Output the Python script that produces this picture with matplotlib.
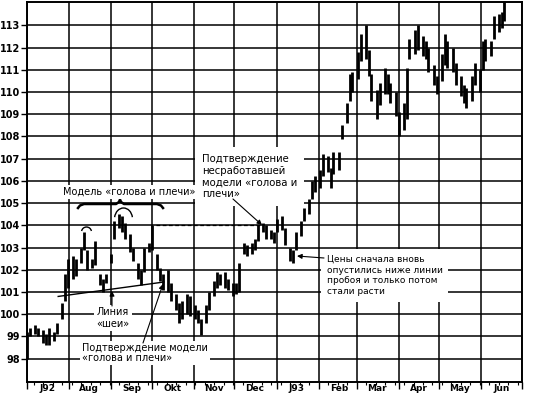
import pandas as pd
import matplotlib
matplotlib.use('Agg')
import matplotlib.pyplot as plt
import matplotlib.dates as mdates
from matplotlib.patches import Arc
from matplotlib.transforms import blended_transform_factory

# bars: every second trading day, July 1992 - June 1993
bar_high = [
    99.2, 99.4, 99.5, 99.4, 99.3, 99.1, 99.4, 99.2, 99.6, 100.5, 101.8, 102.5,        # Jul
    102.6, 102.5, 103.0, 103.7, 102.9, 102.5, 103.3, 101.8, 101.6, 101.8,             # Aug
    102.7, 104.2, 104.5, 104.4, 104.1, 103.6, 103.0, 102.3, 102.0, 103.0, 103.2,      # Sep
    104.0, 102.7, 102.1, 101.8, 102.0, 101.4, 100.9, 100.5, 100.6, 100.9, 100.8,      # Oct
    100.4, 100.2, 99.8, 100.4, 101.0, 101.5, 101.9, 101.8, 101.9, 101.6, 101.4,       # Nov
    101.4, 102.3, 103.2, 103.1, 103.2, 103.4, 104.0, 104.1, 104.0, 103.8, 103.7,      # Dec
    104.3, 104.4, 103.9, 103.0, 102.9, 103.7, 104.2, 104.8, 105.2, 106.0, 106.2,      # Jan
    106.5, 107.2, 107.1, 106.6, 107.3, 107.3, 108.5, 109.5, 110.8, 110.9,             # Feb
    111.8, 112.6, 113.0, 111.9, 110.8, 110.1, 110.4, 111.1, 110.8, 110.4, 110.0,      # Mar
    109.1, 109.5, 111.1, 112.4, 112.8, 113.0, 112.5, 112.3, 112.0, 111.2, 110.7,      # Apr
    111.7, 112.6, 112.3, 112.0, 111.3, 110.7, 110.3, 110.2, 110.7, 111.3, 111.0,      # May
    112.3, 112.4, 112.3, 113.4, 113.5, 113.6, 114.3,                                  # Jun
]
bar_low = [
    98.0, 99.0, 99.1, 99.0, 98.7, 98.6, 98.6, 98.8, 99.1, 99.8, 100.6, 101.2,
    101.6, 101.7, 102.3, 102.9, 102.0, 102.1, 102.2, 101.3, 101.0, 101.4,
    102.3, 103.4, 103.9, 103.7, 103.4, 102.8, 102.4, 101.6, 101.3, 101.9, 102.8,
    102.9, 102.0, 101.5, 101.1, 101.0, 100.6, 100.2, 99.6, 99.8, 100.0, 99.9,
    99.8, 99.6, 99.05, 99.6, 100.2, 100.8, 101.2, 101.3, 101.2, 101.1, 100.8,
    100.9, 101.0, 102.7, 102.6, 102.7, 102.9, 103.3, 103.7, 103.4, 103.4, 103.2,
    103.7, 103.8, 103.1, 102.4, 102.3, 102.9, 103.5, 104.2, 104.5, 105.2, 105.5,
    105.7, 106.2, 106.4, 105.7, 106.3, 106.5, 107.9, 108.6, 109.6, 110.0,
    110.6, 111.4, 111.5, 110.7, 109.6, 108.8, 109.4, 109.9, 109.9, 109.5, 108.9,
    108.0, 108.3, 108.8, 111.5, 111.7, 111.9, 111.6, 111.5, 110.9, 110.3, 109.9,
    110.5, 111.2, 111.1, 110.9, 110.3, 109.8, 109.5, 109.3, 109.6, 110.3, 110.0,
    111.0, 111.4, 111.6, 112.4, 112.7, 112.9, 113.2,
]

y_ticks = list(range(98, 114))
month_labels = ['J92', 'Aug', 'Sep', 'Okt', 'Nov', 'Dec',
                'J93', 'Feb', 'Mar', 'Apr', 'May', 'Jun']

neck_dates = ['1992-07-24', '1992-10-10']
neck_values = [100.8, 101.45]
resist_dates = ['1992-10-04', '1992-12-22']
resist_values = [104.0, 104.0]

dates = pd.bdate_range('1992-07-01', periods=len(bar_high), freq='2B')

fig = plt.figure(figsize=(5.37, 3.97), dpi=100)
ax = fig.add_axes([27 / 537, 15 / 397, 495 / 537, 380 / 397])


def px(x, y):
    # picture pixel -> axes fraction (used only for annotation placement)
    return ((x - 27) / 495, (382 - y) / 380)


ax.vlines(dates, bar_low, bar_high, color='black', lw=2.0, zorder=3)

ax.set_xlim(pd.Timestamp('1992-07-01'), pd.Timestamp('1993-07-01'))
ax.set_ylim(96.95, 114.05)
ax.set_yticks(y_ticks)
ax.set_yticklabels([str(v) for v in y_ticks], fontsize=7, fontweight='bold')
ax.xaxis.set_major_locator(mdates.MonthLocator())
ax.xaxis.set_minor_locator(mdates.WeekdayLocator(byweekday=mdates.MO))
ax.xaxis.set_major_formatter(plt.NullFormatter())
ax.tick_params(axis='x', which='major', length=5, width=1, direction='out')
ax.tick_params(axis='x', which='minor', length=2.5, width=0.8, direction='out')
ax.tick_params(axis='y', length=4, width=1, direction='out', pad=1)
ax.grid(True, which='major', color='black', lw=1.1)
ax.set_axisbelow(True)
for s in ax.spines.values():
    s.set_linewidth(1.4)

trans = blended_transform_factory(ax.transData, ax.transAxes)
for i, lab in enumerate(month_labels):
    mid = pd.Timestamp(1992 + (6 + i) // 12, (6 + i) % 12 + 1, 16)
    ax.text(mid, -0.016, lab, transform=trans, ha='center', va='center',
            fontsize=6.5, fontweight='bold')

# neckline and broken resistance
ax.plot(pd.to_datetime(neck_dates), neck_values, color='black', lw=1, zorder=4)
ax.plot(pd.to_datetime(resist_dates), resist_values, color='black', lw=0.9,
        dashes=(3, 2), zorder=4)

# curly brace above the pattern
brace = [(78, 208), (80, 205.5), (84, 204), (116, 204), (119, 202), (120, 199.5),
         (121, 202), (124, 204), (157, 204), (161, 205.5), (163, 208)]
bx, by = zip(*[px(x, y) for x, y in brace])
ax.plot(bx, by, color='black', lw=1.8, transform=ax.transAxes, zorder=5)

# small arcs over the left shoulder and the head
for cx, cy, w, h in [(86.5, 232, 10, 10), (123.5, 219, 18, 22)]:
    c = px(cx, cy)
    ax.add_patch(Arc(c, w / 495, h / 380, theta1=15, theta2=165,
                     transform=ax.transAxes, color='black', lw=1, zorder=5))

box = dict(facecolor='white', edgecolor='none', pad=1.5)
ax.text(*px(129, 192), 'Модель «голова и плечи»', transform=ax.transAxes,
        ha='center', va='center', fontsize=7, bbox=box, zorder=6)
ax.text(*px(113, 318), 'Линия\n«шеи»', transform=ax.transAxes, ha='center',
        va='center', fontsize=7, linespacing=1.15, bbox=box, zorder=6)
ax.text(*px(82, 353), 'Подтверждение модели\n«голова и плечи»',
        transform=ax.transAxes, ha='left', va='center', fontsize=7,
        linespacing=1.1, bbox=box, zorder=6)
ax.text(*px(202, 176.5), 'Подтверждение\nнесработавшей\nмодели «голова и\nплечи»',
        transform=ax.transAxes, ha='left', va='center', fontsize=7.3,
        linespacing=1.2, bbox=dict(facecolor='white', edgecolor='none', pad=5),
        zorder=6)
ax.text(*px(327, 275.5), 'Цены сначала вновь\nопустились ниже линии\nпробоя и только потом\nстали расти',
        transform=ax.transAxes, ha='left', va='center', fontsize=6.5,
        linespacing=1.25, bbox=dict(facecolor='white', edgecolor='none', pad=4),
        zorder=6)

arrow = dict(arrowstyle='-|>', color='black', lw=0.8, mutation_scale=7,
             shrinkA=0, shrinkB=0)
for (x0, y0), (x1, y1) in [((112, 306), (112, 291)),
                           ((143, 343), (163, 284)),
                           ((233, 199), (262, 225)),
                           ((324, 258), (297, 256))]:
    ax.annotate('', xy=px(x1, y1), xytext=px(x0, y0), xycoords='axes fraction',
                textcoords='axes fraction', arrowprops=arrow, zorder=7)

fig.savefig('out.png', dpi=100)
